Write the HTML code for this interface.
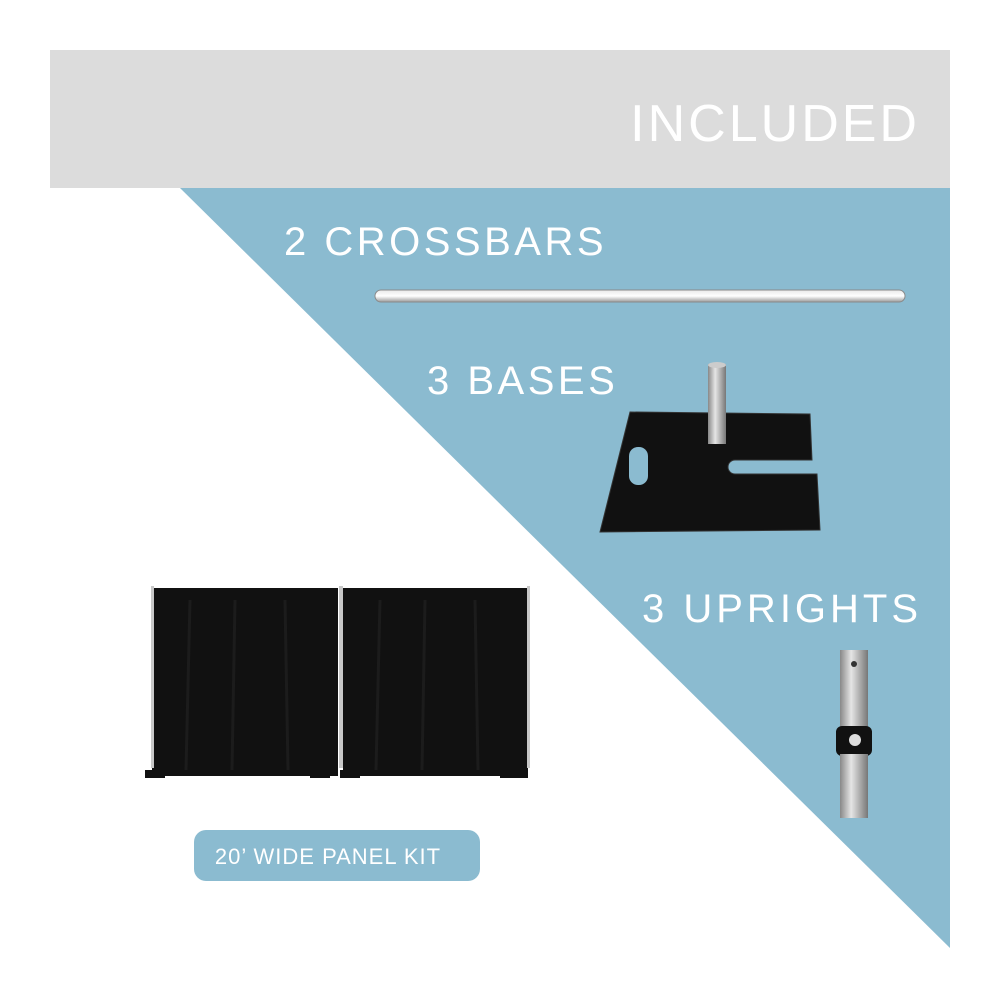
<!DOCTYPE html>
<html><head><style>
body{margin:0;width:1000px;height:1000px;background:#fff;position:relative;overflow:hidden;font-family:"Liberation Sans",sans-serif}
.t{position:absolute;color:#fff;font-weight:normal;white-space:nowrap;line-height:1}
</style></head><body>
<div style="position:absolute;left:50px;top:50px;width:900px;height:138px;background:#dcdcdc"></div>
<div class="t" style="right:80px;top:98px;font-size:52px;letter-spacing:3px">INCLUDED</div>
<svg width="1000" height="1000" style="position:absolute;left:0;top:0">
<defs>
<linearGradient id="bar" x1="0" y1="0" x2="0" y2="1"><stop offset="0" stop-color="#e8e8e8"/><stop offset="0.5" stop-color="#ffffff"/><stop offset="1" stop-color="#9a9a9a"/></linearGradient>
<linearGradient id="pipe" x1="0" y1="0" x2="1" y2="0"><stop offset="0" stop-color="#888"/><stop offset="0.4" stop-color="#e5e5e5"/><stop offset="1" stop-color="#777"/></linearGradient>
</defs>
<polygon points="180,188 950,188 950,948" fill="#8bbbd0"/>
<rect x="375" y="290" width="530" height="12" rx="6" fill="url(#bar)" stroke="#8a8a8a" stroke-width="1"/>
<path d="M630,412 L810,414 L812,460 L735,460 A7,7 0 0 0 735,474 L817,474 L820,530 L600,532 Z" fill="#111" stroke="#333" stroke-width="1"/>
<rect x="629" y="447" width="19" height="38" rx="9" fill="#8bbbd0"/>
<rect x="708" y="364" width="18" height="80" fill="url(#pipe)"/>
<ellipse cx="717" cy="365" rx="9" ry="3" fill="#ccc"/>
<rect x="840" y="650" width="28" height="78" fill="url(#pipe)"/>
<rect x="836" y="726" width="36" height="30" rx="6" fill="#111"/>
<circle cx="855" cy="740" r="6" fill="#ddd"/>
<rect x="840" y="754" width="28" height="64" fill="url(#pipe)"/>
<circle cx="854" cy="664" r="3" fill="#333"/>
<g fill="#111">
<rect x="152" y="588" width="186" height="188"/>
<rect x="343" y="588" width="185" height="188"/>
<rect x="145" y="770" width="20" height="8"/><rect x="310" y="770" width="20" height="8"/>
<rect x="340" y="770" width="20" height="8"/><rect x="500" y="770" width="28" height="8"/>
</g>
<g stroke="#1c1c1c" stroke-width="3">
<line x1="190" y1="600" x2="186" y2="770"/><line x1="235" y1="600" x2="232" y2="770"/><line x1="285" y1="600" x2="288" y2="770"/>
<line x1="380" y1="600" x2="376" y2="770"/><line x1="425" y1="600" x2="422" y2="770"/><line x1="475" y1="600" x2="478" y2="770"/>
</g>
<g fill="#c8c8c8"><rect x="151" y="586" width="3" height="182"/><rect x="339" y="586" width="4" height="182"/><rect x="527" y="586" width="3" height="182"/></g>
<rect x="194" y="830" width="286" height="51" rx="12" fill="#8bbbd0"/>
<text x="328" y="864" fill="#fff" font-size="22" letter-spacing="1" text-anchor="middle" font-family="Liberation Sans,sans-serif">20’ WIDE PANEL KIT</text>
</svg>
<div class="t" style="left:284px;top:222px;font-size:40px;letter-spacing:3.5px">2 CROSSBARS</div>
<div class="t" style="left:427px;top:361px;font-size:40px;letter-spacing:3.5px">3 BASES</div>
<div class="t" style="left:642px;top:589px;font-size:40px;letter-spacing:4px">3 UPRIGHTS</div>
</body></html>
